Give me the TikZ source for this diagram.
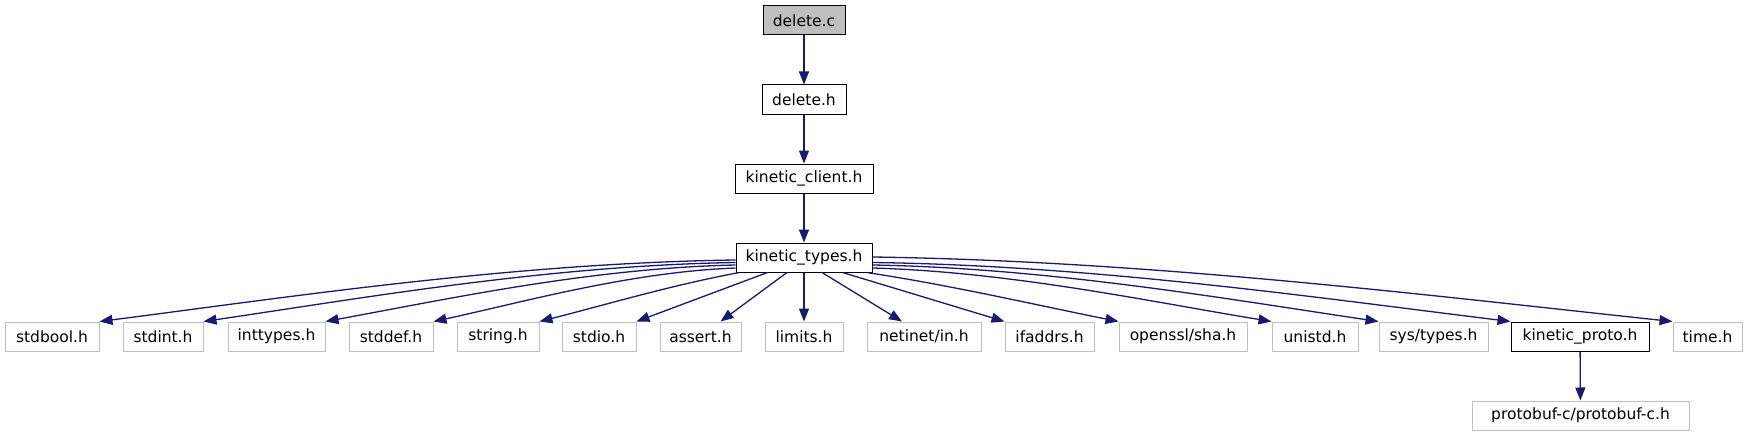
\documentclass[tikz,border=0pt]{standalone}
\usepackage{fontspec}
\setmainfont{DejaVu Sans}
\usetikzlibrary{arrows.meta}
\definecolor{edgeblue}{HTML}{191970}
\definecolor{lightframe}{HTML}{BFBFBF}
\definecolor{rootfill}{HTML}{BFBFBF}
\tikzset{
  box/.style={draw=black, line width=1pt, rectangle, minimum height=29pt, inner sep=0pt, font=\fontsize{15.5}{17}\selectfont, text=black},
  ext/.style={box, draw=lightframe},
  root/.style={box, fill=rootfill},
  edge/.style={draw=edgeblue, line width=1.3pt, -{Triangle[length=13pt,width=10pt]}},
}
\begin{document}
\begin{tikzpicture}[x=1pt,y=-1pt]
\useasboundingbox (0,0) rectangle (1749,436);
% top chain
\node[root, minimum width=82pt] (dc) at (804,20.5) {delete.c};
\node[box, minimum width=84pt] (dh) at (804,99.5) {delete.h};
\node[box, minimum width=138pt] (kc) at (804,178.5) {kinetic\_client.h};
\node[box, minimum width=136pt] (kt) at (804,257.5) {kinetic\_types.h};
% bottom row
\node[ext, minimum width=94pt] (sb) at (52,336.5) {stdbool.h};
\node[ext, minimum width=80pt] (si) at (163,336.5) {stdint.h};
\node[ext, minimum width=97pt] (it) at (276.5,336.5) {inttypes.h};
\node[ext, minimum width=84pt] (sd) at (391,336.5) {stddef.h};
\node[ext, minimum width=82pt] (st) at (498,336.5) {string.h};
\node[ext, minimum width=74pt] (sio) at (599,336.5) {stdio.h};
\node[ext, minimum width=81pt] (as) at (700.5,336.5) {assert.h};
\node[ext, minimum width=78pt] (li) at (804,336.5) {limits.h};
\node[ext, minimum width=114pt] (ni) at (924,336.5) {netinet/in.h};
\node[ext, minimum width=89pt] (ia) at (1049.5,336.5) {ifaddrs.h};
\node[ext, minimum width=128pt] (os) at (1183,336.5) {openssl/sha.h};
\node[ext, minimum width=86pt] (un) at (1315,336.5) {unistd.h};
\node[ext, minimum width=109pt] (sy) at (1433.5,336.5) {sys/types.h};
\node[box, minimum width=138pt] (kp) at (1580,336.5) {kinetic\_proto.h};
\node[ext, minimum width=69pt] (ti) at (1707.5,336.5) {time.h};
\node[ext, minimum width=217pt] (pb) at (1580.5,415.5) {protobuf-c/protobuf-c.h};
% chain edges
\draw[edge] (dc) -- (dh);
\draw[edge] (dh) -- (kc);
\draw[edge] (kc) -- (kt);
\draw[edge] (kp) -- (pb);
% fan-out edges
\draw[edge] ([yshift=-2.5pt]kt.west) .. controls (513,263) and (290,297) .. (sb.north east);
\draw[edge] ([yshift=-5pt]kt.west) .. controls (549.5,265.5) and (363,298) .. (si.north east);
\draw[edge] ([yshift=-7.5pt]kt.west) .. controls (592,268) and (448,299) .. (it.north east);
\draw[edge] ([yshift=-10.5pt]kt.west) .. controls (630,272) and (524,302) .. (sd.north east);
\draw[edge] ([xshift=4pt]kt.south west) .. controls (672,285) and (605,305) .. (st.north east);
\draw[edge] ([xshift=32pt]kt.south west) -- (sio.north east);
\draw[edge] ([xshift=-17pt]kt.south) -- ([xshift=-21pt]as.north east);
\draw[edge] (kt.south) -- (li.north);
\draw[edge] ([xshift=18pt]kt.south) -- ([xshift=-22pt]ni.north);
\draw[edge] ([xshift=-30pt]kt.south east) -- (ia.north west);
\draw[edge] ([xshift=-6pt]kt.south east) .. controls (950,285) and (1036,305) .. (os.north west);
\draw[edge] ([yshift=-10.5pt]kt.east) .. controls (1012,272) and (1152,302) .. (un.north west);
\draw[edge] ([yshift=-7.5pt]kt.east) .. controls (1049,268) and (1227,299) .. (sy.north west);
\draw[edge] ([yshift=-5pt]kt.east) .. controls (1096,265.5) and (1319,298) .. (kp.north west);
\draw[edge] ([yshift=0.5pt]kt.east) .. controls (1152,261) and (1433,296) .. (ti.north west);
\end{tikzpicture}
\end{document}
